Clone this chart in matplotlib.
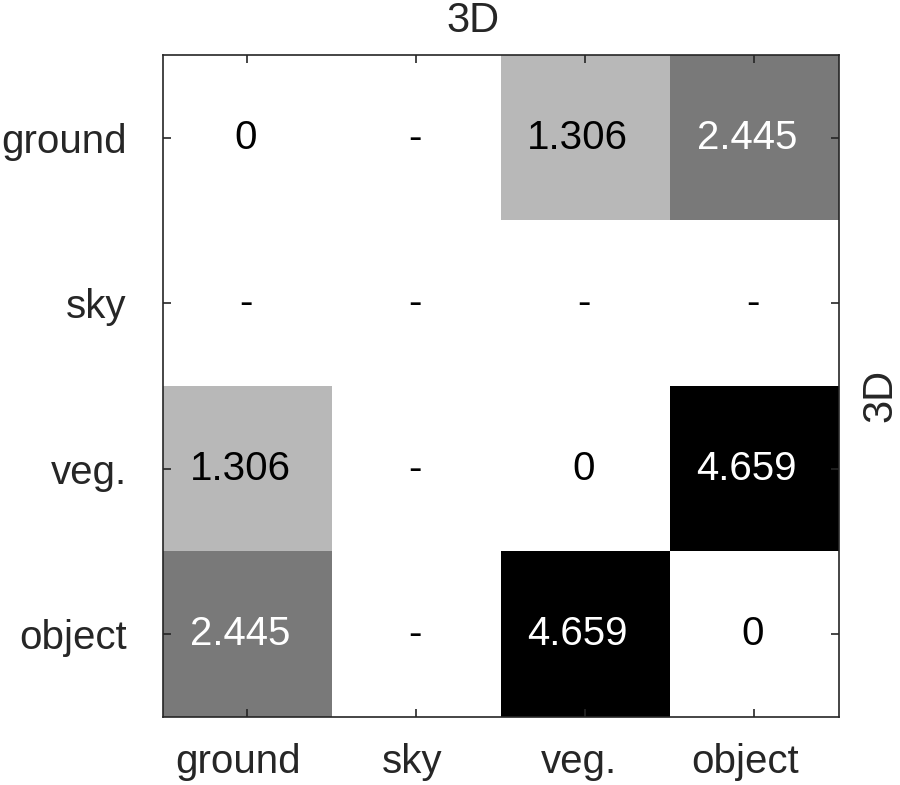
import matplotlib
matplotlib.use("Agg")
import matplotlib.pyplot as plt
import matplotlib.transforms as mtransforms
import numpy as np

plt.rcParams['font.family'] = ['Liberation Sans', 'DejaVu Sans']

# pairwise distances between classes (NaN = not available, shown as "-")
labels = ['ground', 'sky', 'veg.', 'object']
row_ground = [0, np.nan, 1.306, 2.445]
row_sky = [np.nan, np.nan, np.nan, np.nan]
row_veg = [1.306, np.nan, 0, 4.659]
row_object = [2.445, np.nan, 4.659, 0]
title = '3D'

data = np.array([row_ground, row_sky, row_veg, row_object])
vmax = np.nanmax(data)

fig = plt.figure(figsize=(9, 7.85), dpi=100)
ax = fig.add_axes([0.181, 0.0866, 0.751, 0.8433])

cmap = plt.get_cmap('gray_r').copy()
cmap.set_bad('white')
ax.imshow(np.ma.masked_invalid(data), cmap=cmap, vmin=0, vmax=vmax,
          aspect='auto', interpolation='nearest')


def nudge(s):
    # the original renderer puts centred text a little left of centre
    return mtransforms.ScaledTranslation(-0.015 * len(s), 0, fig.dpi_scale_trans)


fs = 29
for i in range(data.shape[0]):
    for j in range(data.shape[1]):
        v = data[i, j]
        if np.isnan(v):
            s, c = '-', 'black'
        else:
            s = '0' if v == 0 else f'{v:.3f}'
            c = 'white' if v / vmax > 0.45 else 'black'
        ax.text(j, i, s, ha='center', va='center', fontsize=fs, color=c,
                transform=ax.transData + nudge(s))

ax.set_xticks(range(len(labels)))
ax.set_xticklabels(labels)
ax.set_yticks(range(len(labels)))
ax.set_yticklabels(labels)
ax.tick_params(direction='in', length=6, width=1.2, colors='#262626',
               labelsize=fs, top=True, right=True)
ax.tick_params(axis='x', pad=19)
ax.tick_params(axis='y', pad=26)
for sp in ax.spines.values():
    sp.set_color('#262626')
    sp.set_linewidth(1.2)
for lab in ax.get_xticklabels():
    lab.set_transform(lab.get_transform() + nudge(lab.get_text()))

# titles placed as in the original (top one slightly left of centre)
ax.text(0.459, 1.052, title, transform=ax.transAxes, ha='center',
        va='center', fontsize=30, color='#262626')
ax.text(1.062, 0.486, title, transform=ax.transAxes, ha='center',
        va='center', rotation=90, fontsize=30, color='#262626')

fig.savefig('out.png', dpi=100)
